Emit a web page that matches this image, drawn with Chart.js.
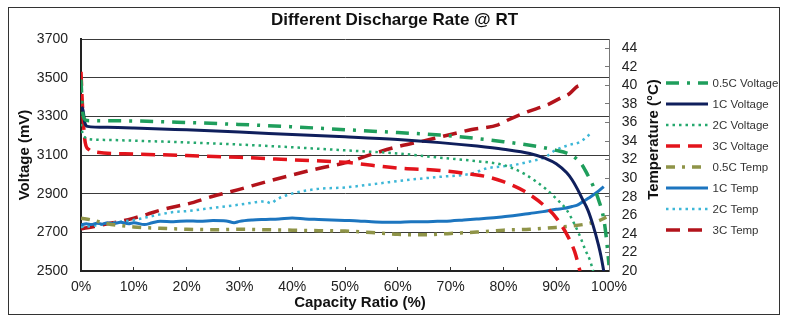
<!DOCTYPE html>
<html>
<head>
<meta charset="utf-8">
<script src="https://cdn.jsdelivr.net/npm/chart.js@4.4.1/dist/chart.umd.min.js"></script>
<style>
  html, body { margin: 0; padding: 0; background: #fff; }
  canvas { display: block; }
</style>
</head>
<body>
<canvas id="dischargeChart" width="790" height="321"></canvas>
<script>
// capacity ratio (%) and voltage (mV) per discharge rate
const cap05V = [0, 0.3, 0.7, 1.2, 5, 10, 20, 30, 40, 50, 60, 68, 75, 80, 85, 88, 90, 92, 93.5, 95, 96, 97, 98, 99, 99.5, 100];
const mv05 = [3490, 3330, 3285, 3278, 3277, 3276, 3268, 3258, 3246, 3231, 3216, 3203, 3185, 3169, 3150, 3136, 3124, 3110, 3088, 3045, 2995, 2940, 2870, 2770, 2670, 2530];

const cap1V = [0, 0.3, 0.7, 1.2, 5, 10, 20, 30, 40, 50, 60, 68, 75, 80, 85, 88, 90, 92, 93, 94, 95, 96, 97, 98, 98.5, 99];
const mv1 = [3330, 3345, 3270, 3248, 3243, 3240, 3230, 3219, 3206, 3194, 3180, 3164, 3146, 3130, 3108, 3082, 3055, 3008, 2972, 2925, 2870, 2815, 2735, 2635, 2575, 2500];

const cap2V = [0, 0.3, 0.8, 1.2, 5, 10, 20, 30, 40, 50, 60, 68, 75, 80, 84, 88, 90, 92, 93.5, 94.5, 95.5, 96.4, 97];
const mv2 = [3260, 3210, 3190, 3183, 3178, 3174, 3165, 3154, 3140, 3124, 3108, 3086, 3068, 3048, 3002, 2925, 2875, 2815, 2740, 2680, 2610, 2555, 2500];

const cap3V = [0, 0.2, 0.5, 0.8, 1.5, 3, 10, 20, 30, 40, 50, 60, 68, 74, 77, 80, 84, 88, 90, 92, 93.5, 94.5];
const mv3 = [3530, 3400, 3250, 3165, 3128, 3114, 3105, 3097, 3088, 3075, 3062, 3032, 3020, 3000, 2987, 2962, 2912, 2832, 2775, 2690, 2600, 2500];

// capacity ratio (%) and cell temperature (°C) per discharge rate
const cap05T = [0, 2, 5, 10, 15, 20, 25, 30, 35, 40, 45, 50, 55, 60, 65, 70, 75, 80, 85, 90, 93, 96, 98, 99.5];
const temp05 = [25.7, 25.5, 25.1, 24.75, 24.6, 24.5, 24.45, 24.5, 24.45, 24.4, 24.35, 24.3, 24.15, 23.95, 23.9, 24.05, 24.2, 24.4, 24.5, 24.7, 24.85, 25.1, 25.4, 25.8];

const cap1T = [0, 1, 2, 3, 4, 5, 6, 7.5, 9, 10, 12, 13.5, 15, 17.5, 20, 22.5, 25, 27.5, 29, 30, 32.5, 35, 37.5, 40, 42.5, 45, 47.5, 50, 52.5, 55, 57.5, 60, 62.5, 65, 67.5, 70, 72.5, 75, 77.5, 80, 82.5, 85, 87.5, 90, 91.5, 93, 94, 95, 96, 97, 98, 99];
const temp1 = [24.95, 25.1, 25.0, 25.15, 25.05, 25.2, 25.1, 25.25, 25.1, 25.2, 25.0, 25.2, 25.35, 25.3, 25.4, 25.35, 25.45, 25.4, 25.2, 25.35, 25.5, 25.55, 25.6, 25.7, 25.6, 25.55, 25.5, 25.45, 25.4, 25.3, 25.25, 25.25, 25.3, 25.3, 25.35, 25.4, 25.5, 25.6, 25.7, 25.85, 26.0, 26.2, 26.4, 26.65, 26.75, 26.95, 27.1, 27.45, 27.8, 28.2, 28.6, 29.1];

const cap2T = [0, 2, 5, 7.5, 10, 12.5, 15, 17.5, 20, 25, 30, 35, 36, 37, 40, 45, 50, 56.6, 61.7, 68, 74, 76.8, 81.8, 85, 88, 89.5, 91, 92.6, 94.5, 95.8, 96.8];
const temp2 = [24.75, 24.85, 25.1, 25.3, 25.5, 25.8, 26.1, 26.35, 26.45, 26.8, 27.15, 27.5, 27.3, 27.7, 28.35, 28.85, 29.0, 29.45, 29.8, 30.15, 30.5, 31.05, 31.4, 31.8, 32.3, 32.9, 33.3, 33.6, 33.9, 34.45, 35.0];

const cap3T = [0, 2.5, 5, 7.5, 10, 12.5, 15, 17.5, 20, 25, 30, 35, 40, 45, 50, 52, 56.6, 60, 64, 67, 71, 74, 79, 80.6, 84.5, 88.3, 90.7, 92.5, 93.9, 94.5];
const temp3 = [24.55, 24.8, 25.1, 25.35, 25.7, 26.1, 26.55, 26.9, 27.2, 28.05, 28.8, 29.6, 30.35, 31.05, 31.65, 32.0, 32.85, 33.4, 33.9, 34.3, 34.85, 35.25, 35.75, 36.2, 37.15, 37.9, 38.6, 39.1, 39.85, 40.0];

const voltTicks = [2500, 2700, 2900, 3100, 3300, 3500, 3700];
const tempTicks = [20, 22, 24, 26, 28, 30, 32, 34, 36, 38, 40, 42, 44];
const FONT = '"Liberation Sans", Arial, Helvetica, sans-serif';

Chart.defaults.font.family = FONT;
Chart.defaults.color = '#222';

function pts(xs, ys) {
  return xs.map((x, i) => ({ x: x, y: ys[i] }));
}

function series(label, xs, ys, axis, color, width, dash) {
  return {
    label: label,
    data: pts(xs, ys),
    yAxisID: axis,
    borderColor: color,
    backgroundColor: color,
    borderWidth: width,
    borderDash: dash,
    pointRadius: 0,
    fill: false,
    cubicInterpolationMode: 'monotone'
  };
}

const datasets = [
  series('0.5C Voltage', cap05V, mv05, 'y', '#1f9e5c', 3.5, [13, 8, 3, 8]),
  series('1C Voltage', cap1V, mv1, 'y', '#0f1f5c', 3, []),
  series('2C Voltage', cap2V, mv2, 'y', '#25a86e', 2.5, [2.5, 4]),
  series('3C Voltage', cap3V, mv3, 'y', '#e3141c', 3.5, [14, 8]),
  series('0.5C Temp', cap05T, temp05, 'y1', '#8f9448', 3.5, [9, 7, 3, 7]),
  series('1C Temp', cap1T, temp1, 'y1', '#1c75bf', 3, []),
  series('2C Temp', cap2T, temp2, 'y1', '#3db7d7', 2.5, [2.5, 4]),
  series('3C Temp', cap3T, temp3, 'y1', '#b3131b', 3.5, [14, 8])
];

// frame, x title, right-hand title and the line-sample legend
const decorations = {
  id: 'decorations',
  afterDraw(chart) {
    const ctx = chart.ctx;
    ctx.save();

    ctx.strokeStyle = '#333';
    ctx.lineWidth = 1;
    ctx.strokeRect(8.5, 7.5, 771, 307);

    ctx.fillStyle = '#111';
    ctx.font = 'bold 15px ' + FONT;
    ctx.textAlign = 'center';
    ctx.textBaseline = 'middle';
    ctx.fillText('Capacity Ratio (%)', 360, 302.5);

    ctx.save();
    ctx.translate(653.5, 139.5);
    ctx.rotate(-Math.PI / 2);
    ctx.fillText('Temperature (°C)', 0, 0);
    ctx.restore();

    ctx.font = '11.5px ' + FONT;
    ctx.textAlign = 'left';
    ctx.fillStyle = '#333';
    chart.data.datasets.forEach((ds, i) => {
      const y = 83 + i * 21;
      ctx.beginPath();
      ctx.strokeStyle = ds.borderColor;
      ctx.lineWidth = ds.borderWidth;
      ctx.setLineDash(ds.borderDash || []);
      ctx.moveTo(666, y);
      ctx.lineTo(708, y);
      ctx.stroke();
      ctx.setLineDash([]);
      ctx.fillText(ds.label, 712.5, y + 0.5);
    });
    ctx.restore();
  }
};

new Chart(document.getElementById('dischargeChart'), {
  type: 'line',
  data: { datasets: datasets },
  plugins: [decorations],
  options: {
    responsive: false,
    animation: false,
    devicePixelRatio: 1,
    layout: { padding: { left: 10, right: 11, top: 0, bottom: 8 } },
    plugins: {
      legend: { display: false },
      tooltip: { enabled: false },
      title: {
        display: true,
        text: 'Different Discharge Rate @ RT',
        color: '#111',
        font: { size: 17, weight: 'bold' },
        padding: { top: 10, bottom: 8.6 }
      }
    },
    scales: {
      x: {
        type: 'linear',
        min: 0,
        max: 100,
        ticks: {
          stepSize: 10,
          padding: 11.6,
          font: { size: 14 },
          callback: v => v + '%'
        },
        grid: { drawOnChartArea: false, tickLength: -4, color: '#333' },
        border: { color: '#222', width: 2 },
        afterFit: s => { s.height = 42; }
      },
      y: {
        position: 'left',
        min: voltTicks[0],
        max: voltTicks[voltTicks.length - 1],
        afterBuildTicks: s => { s.ticks = voltTicks.map(v => ({ value: v })); },
        ticks: { padding: 13, font: { size: 14 }, autoSkip: false, callback: v => String(v) },
        grid: { color: '#3a3a3a', lineWidth: 1, drawTicks: false },
        border: { color: '#222', width: 2 },
        title: {
          display: true,
          text: 'Voltage (mV)',
          color: '#111',
          font: { size: 15, weight: 'bold' },
          padding: { top: 6, bottom: 0 }
        },
        afterFit: s => { s.width = 71; }
      },
      y1: {
        position: 'right',
        min: 20,
        max: 45,
        afterBuildTicks: s => { s.ticks = tempTicks.map(v => ({ value: v })); },
        ticks: { autoSkip: false, padding: 16.7, font: { size: 14 }, callback: v => String(v) },
        grid: { drawOnChartArea: false, tickLength: -4, color: '#777' },
        border: { color: '#777', width: 1 },
        afterFit: s => { s.width = 170; }
      }
    }
  }
});
</script>
</body>
</html>
